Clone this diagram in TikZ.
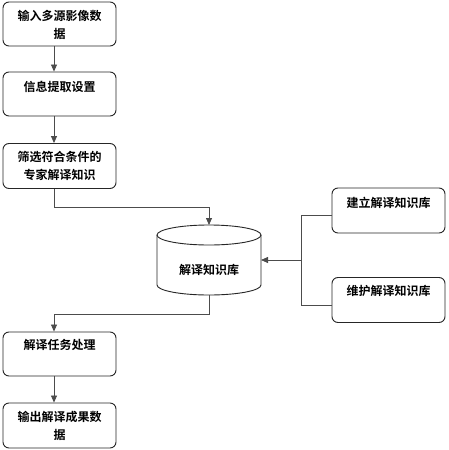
\documentclass[tikz,border=0pt]{standalone}
\usepackage{fontspec}
\newfontfamily\cjk{Noto Sans CJK SC}[BoldFont={Noto Sans CJK SC Bold}]
\usetikzlibrary{arrows.meta,calc}
\begin{document}
\begin{tikzpicture}[x=1pt,y=-1pt,
  box/.style={draw=black!85, line width=0.9pt, rounded corners=6pt, minimum width=113pt, minimum height=44pt, inner sep=0pt},
  txt/.style={font=\cjk\bfseries\fontsize{12pt}{18pt}\selectfont, align=center, anchor=north, inner sep=0pt},
  conn/.style={draw=black!70, line width=0.8pt},
  arr/.style={conn, -{Triangle[length=7pt,width=6pt]}}
]
\useasboundingbox (0,0) rectangle (448,450);
\fill[white] (0,0) rectangle (448,450);
% left column boxes
\node[box] (b1) at (59.5,24) {};
\node[box] (b2) at (59.5,94) {};
\node[box, minimum height=45pt] (b3) at (59.5,166) {};
\node[box] (b4) at (59.5,354) {};
\node[box, minimum height=45pt] (b5) at (59.5,425.5) {};
% right boxes
\node[box, minimum height=45pt] (r1) at (388.5,210.5) {};
\node[box, minimum height=45pt] (r2) at (388.5,300) {};
% texts
\node[txt] (t1) at ($(b1.north)+(0,8)$) {输入多源影像数\\据};
\node[txt] (t2) at ($(b2.north)+(0,9)$) {信息提取设置};
\node[txt] (t3) at ($(b3.north)+(0,8)$) {筛选符合条件的\\专家解译知识};
\node[txt] (t4) at ($(b4.north)+(0,8)$) {解译任务处理};
\node[txt] (t5) at ($(b5.north)+(0,8)$) {输出解译成果数\\据};
\node[txt] (t6) at ($(r1.north)+(0,9)$) {建立解译知识库};
\node[txt] (t7) at ($(r2.north)+(0,8)$) {维护解译知识库};
% database cylinder
\draw[draw=black!85, line width=0.9pt] (209,235) ellipse [x radius=52, y radius=10];
\draw[draw=black!85, line width=0.9pt] (157,235) -- (157,285) arc[start angle=180, end angle=0, x radius=52, y radius=10] -- (261,235);
\node[txt, anchor=center] (db) at (209,270) {解译知识库};
\coordinate (dbtop) at (209,225);
\coordinate (dbright) at (261,260);
\coordinate (dbbot) at (209,295);
% connectors
\draw[arr] ($(b1.south)+(-5.5,0)$) -- ($(b2.north)+(-5.5,0)$);
\draw[arr] ($(b2.south)+(-5.5,0)$) -- ($(b3.north)+(-5.5,0)$);
\draw[arr] ($(b3.south)+(-5.5,0)$) |- (209,207) -- (dbtop);
\draw[arr] (dbbot) |- (54,314) -- ($(b4.north)+(-5.5,0)$);
\draw[arr] ($(b4.south)+(-5.5,0)$) -- ($(b5.north)+(-5.5,0)$);
\draw[conn] ($(r1.west)+(0,4.5)$) -| (301,260);
\draw[conn] ($(r2.west)+(0,5)$) -| (301,260);
\draw[arr] (301,260) -- (dbright);
\end{tikzpicture}
\end{document}
